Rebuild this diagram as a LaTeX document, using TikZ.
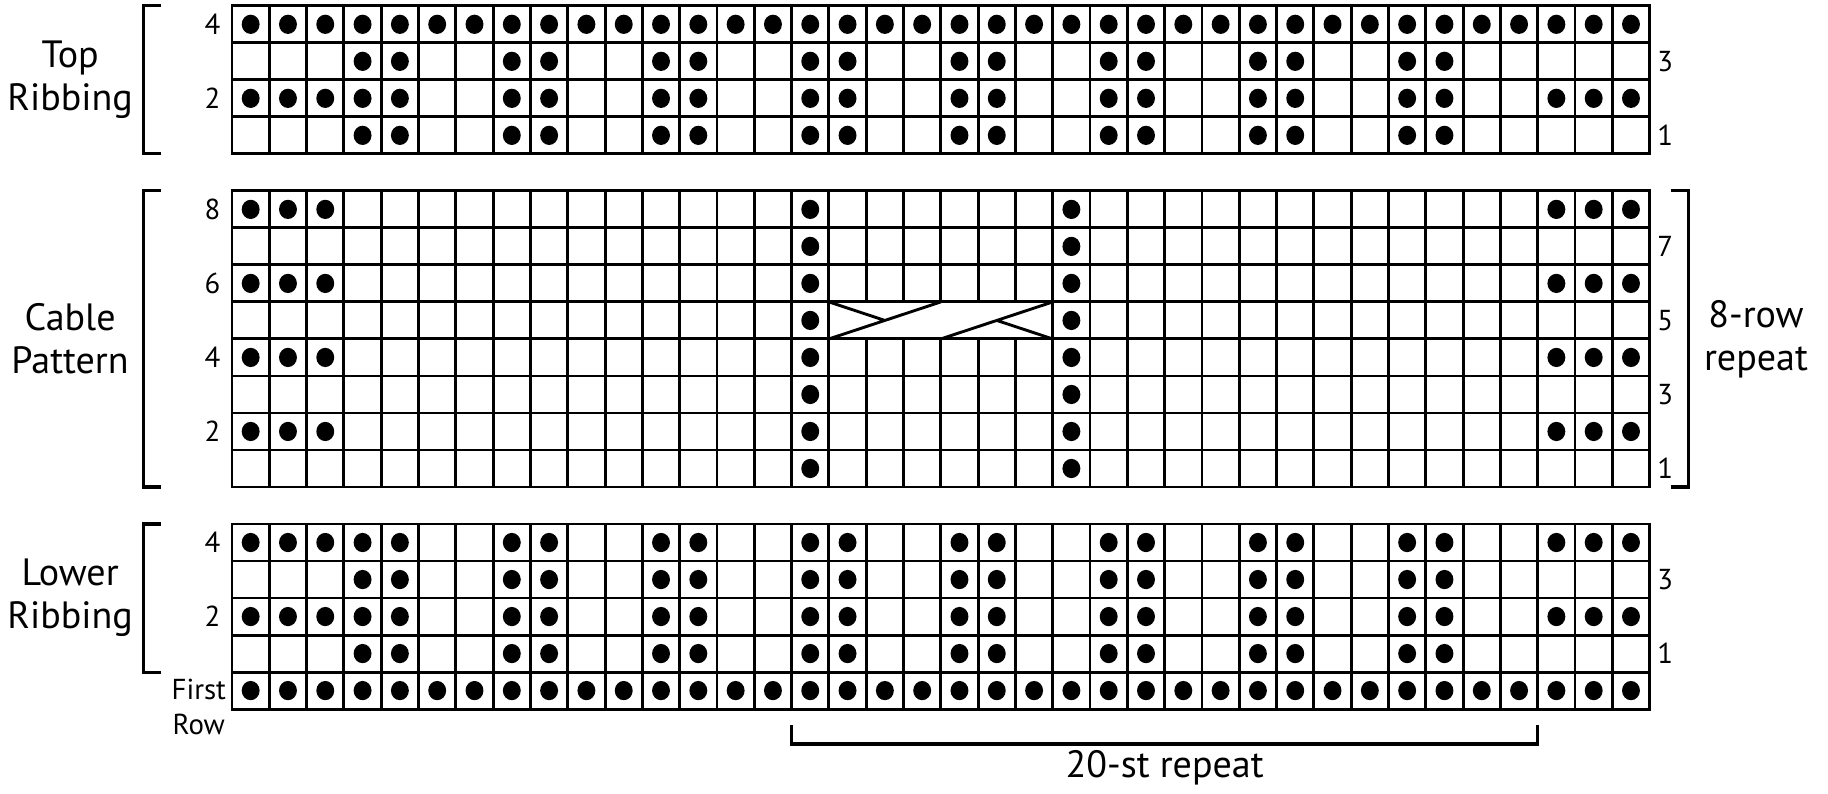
\documentclass[tikz,border=0pt]{standalone}
\usepackage{fontspec}
\setmainfont{PT Sans}
\usetikzlibrary{positioning}
\newcommand\purl[2]{\fill (#1-0.5,#2+0.5) ellipse [x radius=0.24, y radius=0.26];}

\begin{document}
\begin{tikzpicture}[x=0.5cm, y=0.4961cm, line width=1.1pt,
    lbl/.style={font=\fontsize{14.5}{16.5}\selectfont, align=center, inner sep=1pt},
    num/.style={font=\fontsize{11}{13.5}\selectfont, align=center, inner sep=0pt},
    brk/.style={draw, line width=1.2pt}]
    \useasboundingbox (-6.219,-2.268) rectangle (42.781,19.157);
    \draw[step=1] (0,15) grid (38,19) (0,15) rectangle (38,19);
    \draw[step=1] (0,6) grid (38,14) (0,6) rectangle (38,14);
    \draw[step=1] (0,0) grid (38,5) (0,0) rectangle (38,5);
    \foreach \c in {1,...,38} {\purl{\c}{18} \purl{\c}{0}}
    \foreach \k in {1,...,8} \foreach \r in {15,16,17,1,2,3,4} {\purl{4*\k}{\r} \purl{4*\k+1}{\r}}
    \foreach \c in {1,2,3,36,37,38} \foreach \r in {16,13,11,9,7,4,2} {\purl{\c}{\r}}
    \foreach \r in {6,...,13} {\purl{16}{\r} \purl{23}{\r}}
    \fill[white] (16,10) rectangle (22,11);
    \draw (16,10) rectangle (22,11);
    \draw (16,10) -- (19,11) (19,10) -- (22,11) (16,11) -- (17.5,10.5) (20.5,10.5) -- (22,10);
    \draw[brk] (-1.9,15) -| (-2.37,19) -- (-1.9,19);
    \draw[brk] (-1.9,6) -| (-2.37,14) -- (-1.9,14);
    \draw[brk] (-1.9,1) -| (-2.37,5) -- (-1.9,5);
    \draw[brk] (38.58,6) -| (39.03,14) -- (38.58,14);
    \draw[brk] (15,-0.44) |- (35,-0.945) -- (35,-0.44);
    \coordinate (stmid) at (25,-0.945);
    \node[lbl] (topl) at (-4.34,17) {Top\\Ribbing};
    \node[lbl] (cabl) at (-4.34,10) {Cable\\Pattern};
    \node[lbl] (lowl) at (-4.34,3) {Lower\\Ribbing};
    \node[lbl] (rowrep) at (40.85,10) {8-row\\repeat};
    \node[lbl, below=1pt of stmid] (strep) {20-st repeat};
    \node[num] (first) at (-0.89,0.05) {First\\Row};
    \foreach \y/\t in {18.5/4,16.5/2,13.5/8,11.5/6,9.5/4,7.5/2,4.5/4,2.5/2} \node[num] (l\y) at (-0.52,\y) {\t};
    \foreach \y/\t in {17.5/3,15.5/1,12.5/7,10.5/5,8.5/3,6.5/1,3.5/3,1.5/1} \node[num] (r\y) at (38.42,\y) {\t};
\end{tikzpicture}
\end{document}
